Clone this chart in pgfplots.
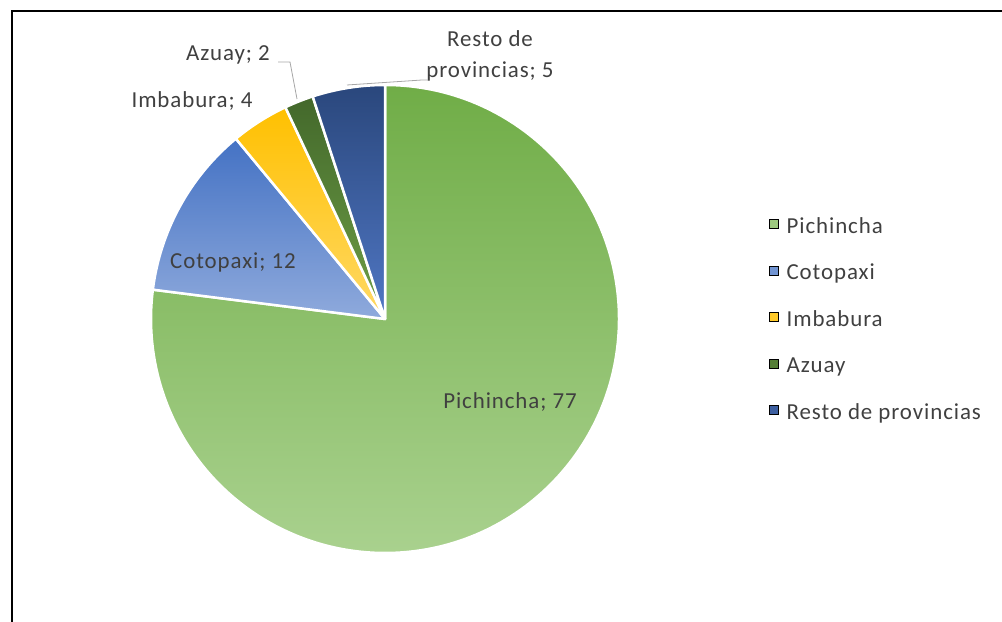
\documentclass[border=0pt]{standalone}
\usepackage{pgfplots}
\pgfplotsset{compat=1.18}
\usepackage{fontspec}
\setmainfont{Carlito}[LetterSpace=4]
\definecolor{txt}{HTML}{404040}
\definecolor{lead}{HTML}{A6A6A6}
\definecolor{pTop}{HTML}{70AD47}\definecolor{pBot}{HTML}{A9D18E}
\definecolor{cTop}{HTML}{4472C4}\definecolor{cBot}{HTML}{8FAADC}
\definecolor{iTop}{HTML}{FFC000}\definecolor{iBot}{HTML}{FFD966}
\definecolor{aTop}{HTML}{43682B}\definecolor{aBot}{HTML}{6FA047}
\definecolor{rTop}{HTML}{2A477C}\definecolor{rBot}{HTML}{5077C4}
\begin{document}
\begin{tikzpicture}
% values (percent)
\def\vP{77}\def\vC{12}\def\vI{4}\def\vA{2}\def\vR{5}
\pgfmathsetmacro\aP{90-\vP*3.6}
\pgfmathsetmacro\aC{\aP-\vC*3.6}
\pgfmathsetmacro\aI{\aC-\vI*3.6}
\pgfmathsetmacro\aA{\aI-\vA*3.6}
\pgfmathsetmacro\aR{\aA-\vR*3.6}
\def\fs{\fontsize{23}{31}\selectfont\color{txt}}
\begin{axis}[x=1bp,y=1bp,scale only axis,
  xmin=0,xmax=1002,ymin=0,ymax=622,
  hide axis, clip=false,
  legend image code/.code={\fill[#1] (0bp,-1bp) rectangle (9bp,8bp);},
  legend cell align=left,
  legend style={draw=none, fill=none, inner sep=0pt, row sep=25.5bp,
    font=\fs, at={(axis cs:769,405)}, anchor=north west,
    nodes={inner sep=0pt, text height=16bp, text depth=5bp},
    /tikz/every odd column/.append style={column sep=8bp}},
]
\coordinate (BL) at (axis cs:0,0);
\coordinate (TR) at (axis cs:1002,622);
\shadedraw[top color=pTop,bottom color=pBot,draw=white,line width=2.5bp,line join=round]
  (axis cs:385,303) -- ++(90:234bp) arc[start angle=90,end angle=\aP,radius=234bp] -- cycle;
\shadedraw[top color=cTop,bottom color=cBot,draw=white,line width=2.5bp,line join=round]
  (axis cs:385,303) -- ++(\aP:234bp) arc[start angle=\aP,end angle=\aC,radius=234bp] -- cycle;
\shadedraw[top color=iTop,bottom color=iBot,draw=white,line width=2.5bp,line join=round]
  (axis cs:385,303) -- ++(\aC:234bp) arc[start angle=\aC,end angle=\aI,radius=234bp] -- cycle;
\shadedraw[top color=aTop,bottom color=aBot,draw=white,line width=2.5bp,line join=round]
  (axis cs:385,303) -- ++(\aI:234bp) arc[start angle=\aI,end angle=\aA,radius=234bp] -- cycle;
\shadedraw[top color=rTop,bottom color=rBot,draw=white,line width=2.5bp,line join=round]
  (axis cs:385,303) -- ++(\aA:234bp) arc[start angle=\aA,end angle=\aR,radius=234bp] -- cycle;
% data labels
\node[font=\fs] at (axis cs:510,220) {Pichincha; 77};
\node[font=\fs] at (axis cs:233,360) {Cotopaxi; 12};
\node[font=\fs] at (axis cs:192,521) {Imbabura; 4};
\node[font=\fs] at (axis cs:228,567) {Azuay; 2};
\node[font=\fs,align=center] at (axis cs:490,566) {Resto de\\provincias; 5};
% leader lines
\draw[lead,line width=0.8bp] (axis cs:278,560) -- (axis cs:290,560) -- (axis cs:297,523);
\draw[lead,line width=0.8bp] (axis cs:347,537) -- (axis cs:422,542) -- (axis cs:428,542);
% frame
\draw[black,line width=2.5bp] (axis cs:12,-5) -- (axis cs:12,611) -- (axis cs:1010,611);
% legend
\addlegendimage{fill=pBot!80!pTop}\addlegendentry{Pichincha}
\addlegendimage{fill=cBot!60!cTop}\addlegendentry{Cotopaxi}
\addlegendimage{fill=iTop!60!iBot}\addlegendentry{Imbabura}
\addlegendimage{fill=aTop!60!aBot}\addlegendentry{Azuay}
\addlegendimage{fill=rTop!50!rBot}\addlegendentry{Resto de provincias}
\end{axis}
\pgfresetboundingbox
\path (BL) rectangle (TR);
\end{tikzpicture}
\end{document}
